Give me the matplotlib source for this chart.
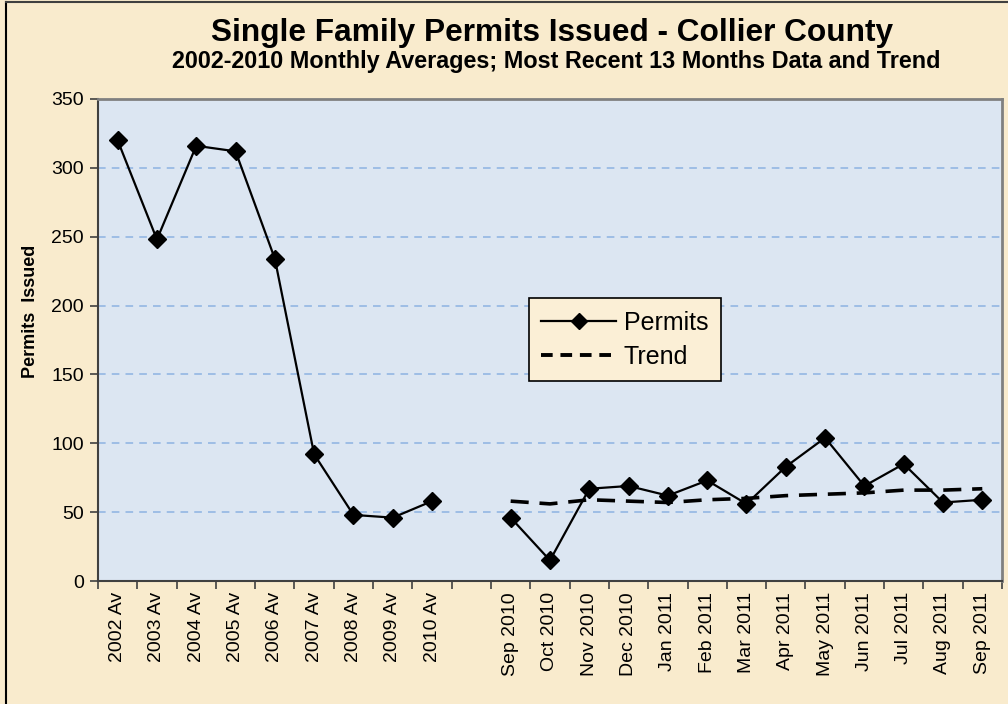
import matplotlib
matplotlib.use("Agg")
import matplotlib.pyplot as plt
from matplotlib.lines import Line2D
import numpy as np

plt.rcParams["font.family"] = ["Liberation Sans", "DejaVu Sans"]

# yearly averages, then a blank slot, then the last 13 months
year_labels = ["2002 Av", "2003 Av", "2004 Av", "2005 Av", "2006 Av",
               "2007 Av", "2008 Av", "2009 Av", "2010 Av"]
year_permits = [320, 248, 316, 312, 234, 92, 48, 46, 58]

month_labels = ["Sep 2010", "Oct 2010", "Nov 2010", "Dec 2010", "Jan 2011",
                "Feb 2011", "Mar 2011", "Apr 2011", "May 2011", "Jun 2011",
                "Jul 2011", "Aug 2011", "Sep 2011"]
month_permits = [46, 15, 67, 69, 62, 73, 56, 83, 104, 69, 85, 57, 59]
month_trend = [58, 56, 59, 58, 57, 59, 60, 62, 63, 64, 66, 66, 67]

tick_labels = year_labels + [""] + month_labels
x_year = np.arange(len(year_labels))
x_month = np.arange(len(month_labels)) + len(year_labels) + 1

BG = "#F9EBCD"
PLOT_BG = "#DCE6F2"
GRID = "#8DB3E2"

fig = plt.figure(figsize=(10.08, 7.04), dpi=100, facecolor=BG)
ax = fig.add_axes([0.0972, 0.1747, 0.8968, 0.6847])
ax.set_facecolor(PLOT_BG)

ax.plot(x_year, year_permits, color="black", lw=1.6, marker="D",
        markersize=9, zorder=3)
ax.plot(x_month, month_permits, color="black", lw=1.6, marker="D",
        markersize=9, zorder=3)
ax.plot(x_month, month_trend, color="black", lw=2.6, ls=(0, (5, 3)),
        zorder=2)

ax.set_xlim(-0.5, len(tick_labels) - 0.5)
ax.set_ylim(0, 350)
ax.set_yticks(np.arange(0, 351, 50))
ax.yaxis.grid(True, color=GRID, ls=(0, (5, 4)), lw=1.1)
ax.set_axisbelow(True)

ax.set_xticks(np.arange(len(tick_labels)))
ax.set_xticklabels(tick_labels, rotation=90, fontsize=14)
ax.set_xticks(np.arange(len(tick_labels) + 1) - 0.5, minor=True)
ax.tick_params(axis="x", which="major", length=0, pad=8)
ax.tick_params(axis="x", which="minor", length=6, width=1.2, color="#404040")
ax.tick_params(axis="y", labelsize=14, length=6, width=1.2, color="#404040",
               pad=4)

for side in ["left", "bottom"]:
    ax.spines[side].set_color("#404040")
    ax.spines[side].set_linewidth(1.5)
for side in ["top", "right"]:
    ax.spines[side].set_color("#808080")
    ax.spines[side].set_linewidth(2)

fig.text(0.030, 0.557, "Permits  Issued", rotation=90, ha="center",
         va="center", fontsize=13, fontweight="bold")

fig.text(0.548, 0.953, "Single Family Permits Issued - Collier County",
         ha="center", va="center", fontsize=22.8, fontweight="bold")
fig.text(0.552, 0.912,
         "2002-2010 Monthly Averages; Most Recent 13 Months Data and Trend",
         ha="center", va="center", fontsize=16.8, fontweight="bold")

handles = [Line2D([], [], color="black", lw=1.6, marker="D", markersize=8),
           Line2D([], [], color="black", lw=2.8, ls=(0, (3, 2)))]
leg = ax.legend(handles, ["Permits", "Trend"], loc="upper left",
                bbox_to_anchor=(0.4768, 0.587), fontsize=18, frameon=True,
                fancybox=False, edgecolor="black", framealpha=1,
                handlelength=3.0, handletextpad=0.3, borderpad=0.5,
                labelspacing=0.4, borderaxespad=0)
leg.get_frame().set_facecolor("#FBEFD6")
leg.get_frame().set_linewidth(1.2)

# outer frame of the chart area
fig.add_artist(Line2D([0.006, 0.006], [0, 0.997], color="black", lw=1.5,
                      transform=fig.transFigure))
fig.add_artist(Line2D([0.006, 1], [0.997, 0.997], color="#404040", lw=1.5,
                      transform=fig.transFigure))

fig.savefig("out.png", dpi=100, facecolor=BG)
